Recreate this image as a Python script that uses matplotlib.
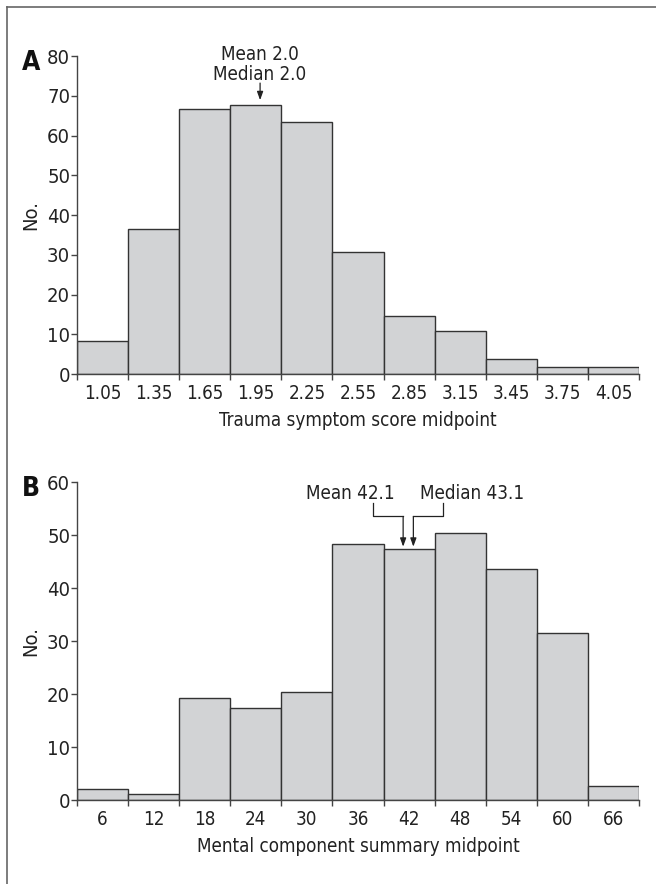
import matplotlib
matplotlib.use('Agg')
import matplotlib.pyplot as plt
from matplotlib.lines import Line2D

plt.rcParams['font.family'] = ['DejaVu Sans']
plt.rcParams['font.stretch'] = 'condensed'

# Panel A - trauma symptom score
trauma_mid = [1.05, 1.35, 1.65, 1.95, 2.25, 2.55, 2.85, 3.15, 3.45, 3.75, 4.05]
trauma_n = [8.2, 36.4, 66.6, 67.6, 63.5, 30.6, 14.7, 10.9, 3.8, 1.7, 1.7]
trauma_ticks = [0, 10, 20, 30, 40, 50, 60, 70, 80]

# Panel B - mental component summary
mcs_mid = [6, 12, 18, 24, 30, 36, 42, 48, 54, 60, 66]
mcs_n = [2.1, 1.1, 19.3, 17.3, 20.4, 48.3, 47.4, 50.4, 43.5, 31.5, 2.6]
mcs_ticks = [0, 10, 20, 30, 40, 50, 60]

fill = '#d2d3d5'
edge = '#333333'
axcol = '#444444'
txt = '#222222'

fig = plt.figure(figsize=(6.56, 8.84), dpi=100)

# frame lines on the left and top of the figure
fig.add_artist(Line2D([0.011, 0.011], [0, 0.992], color='#666666', lw=1.2))
fig.add_artist(Line2D([0.011, 1.0], [0.992, 0.992], color='#666666', lw=1.2))


def hist_panel(ax, mids, counts, width, yticks, xlabel):
    ax.bar(mids, counts, width=width, color=fill, edgecolor=edge, linewidth=1.0)
    edges = [m - width / 2 for m in mids] + [mids[-1] + width / 2]
    ax.set_xlim(edges[0], edges[-1])
    ax.set_ylim(0, yticks[-1])
    ax.set_yticks(yticks)
    ax.set_xticks(edges)
    ax.set_xticklabels([])
    ax.set_xticks(mids, minor=True)
    ax.set_xticklabels([str(m) for m in mids], minor=True)
    ax.tick_params(axis='x', which='major', direction='out', length=4,
                   width=1, color=axcol)
    ax.tick_params(axis='x', which='minor', length=0, pad=7, labelsize=13.5,
                   labelcolor=txt)
    ax.tick_params(axis='y', direction='out', length=4, width=1, color=axcol,
                   pad=1, labelsize=14.5, labelcolor=txt)
    for s in ['top', 'right']:
        ax.spines[s].set_visible(False)
    for s in ['left', 'bottom']:
        ax.spines[s].set_color(axcol)
        ax.spines[s].set_linewidth(1.0)
    ax.set_ylabel('No.', fontsize=14.5, color=txt, labelpad=5)
    ax.set_xlabel(xlabel, fontsize=13.5, color=txt, labelpad=6)


axA = fig.add_axes([0.1174, 0.5769, 0.8567, 0.3597])
hist_panel(axA, trauma_mid, trauma_n, 0.3, trauma_ticks,
           'Trauma symptom score midpoint')
axA.text(-0.098, 1.02, 'A', transform=axA.transAxes, fontsize=19,
         fontweight='bold', ha='left', va='top', color='#111111')
axA.text(1.975, 79, 'Mean 2.0', ha='center', va='baseline', fontsize=13.5,
         color=txt)
axA.text(1.975, 74, 'Median 2.0', ha='center', va='baseline', fontsize=13.5,
         color=txt)
axA.annotate('', xy=(1.975, 68.9), xytext=(1.975, 73.2),
             arrowprops=dict(arrowstyle='-|>,head_length=0.5,head_width=0.18',
                             color=txt, lw=0.9, shrinkA=0, shrinkB=0),
             annotation_clip=False)

axB = fig.add_axes([0.1174, 0.0950, 0.8567, 0.3597])
hist_panel(axB, mcs_mid, mcs_n, 6, mcs_ticks,
           'Mental component summary midpoint')
axB.text(-0.098, 1.02, 'B', transform=axB.transAxes, fontsize=19,
         fontweight='bold', ha='left', va='top', color='#111111')
axB.text(35.1, 56.8, 'Mean 42.1', ha='center', va='baseline', fontsize=13.5,
         color=txt)
axB.text(49.4, 56.8, 'Median 43.1', ha='center', va='baseline', fontsize=13.5,
         color=txt)
# elbow connectors to the mean and median
axB.plot([37.8, 37.8, 41.3], [56.1, 53.5, 53.5], color=txt, lw=0.9)
axB.plot([46.0, 46.0, 42.5], [56.1, 53.5, 53.5], color=txt, lw=0.9)
for xm in [41.3, 42.5]:
    axB.annotate('', xy=(xm, 47.8), xytext=(xm, 53.5),
                 arrowprops=dict(arrowstyle='-|>,head_length=0.5,head_width=0.18',
                                 color=txt, lw=0.9, shrinkA=0, shrinkB=0))

fig.savefig('out.png', dpi=100)
